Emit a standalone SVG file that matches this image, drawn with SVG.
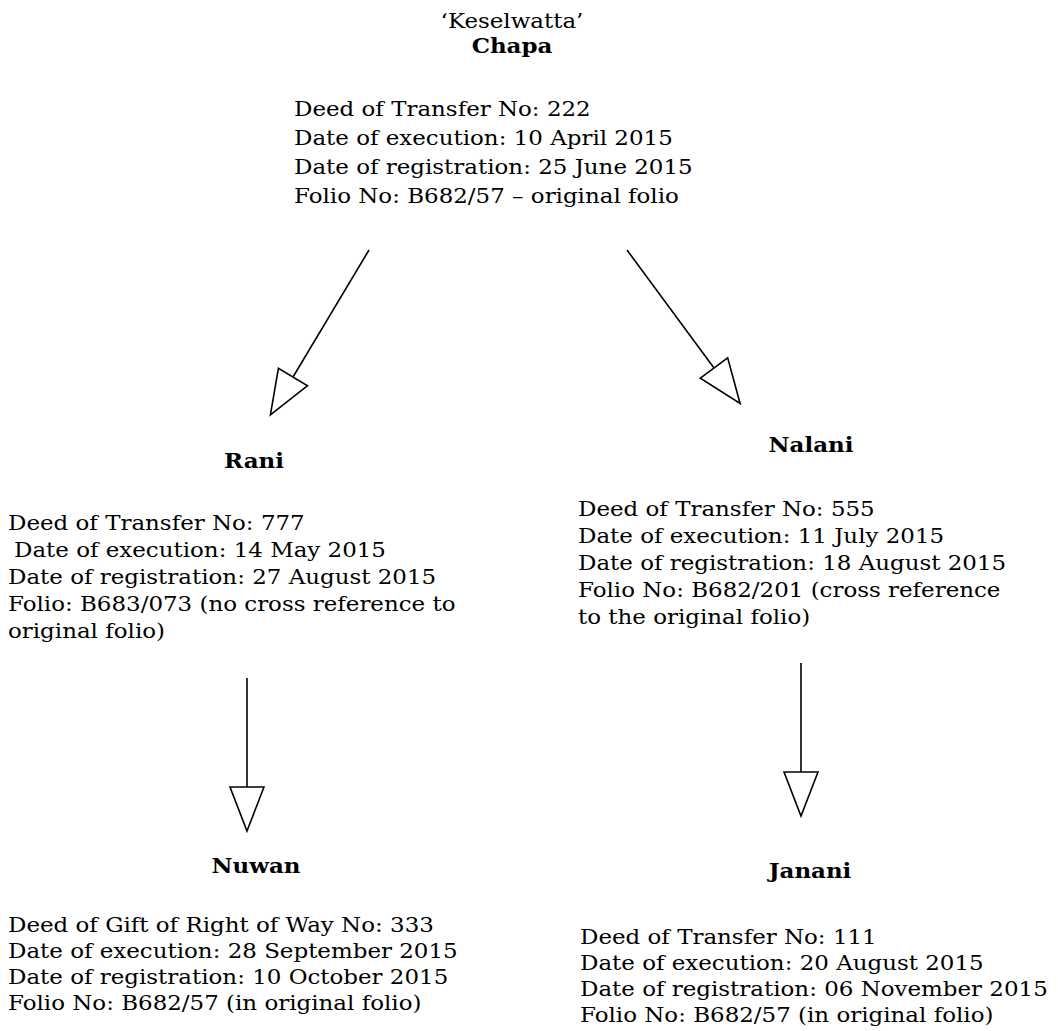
<svg xmlns="http://www.w3.org/2000/svg" width="1058" height="1031" viewBox="0 0 1058 1031">
<style>
  text { font-family: "DejaVu Serif", "Liberation Serif", serif; font-size: 20.5px; fill: #000; }
  .name { font-weight: bold; text-anchor: middle; }
  .title { text-anchor: middle; }
  .conn { stroke: #000; stroke-width: 1.6; fill: none; marker-end: url(#hollow); }
</style>
<defs>
  <marker id="hollow" viewBox="0 0 44 34" refX="0" refY="17" markerWidth="44" markerHeight="34" markerUnits="userSpaceOnUse" orient="auto" overflow="visible">
    <path d="M0,0 L44,17 L0,34 Z" fill="#fff" stroke="#000" stroke-width="1.6"/>
  </marker>
</defs>
<rect width="1058" height="1031" fill="#fff"/>

<g id="connectors">
  <path class="conn" d="M369,250 L293,377"/>
  <path class="conn" d="M627,250 L714,368"/>
  <path class="conn" d="M247,678 L247,787"/>
  <path class="conn" d="M801,663 L801,772"/>
</g>

<g id="chapa">
  <text class="title" transform="translate(512,28) scale(1.12,1)">‘Keselwatta’</text>
  <text class="name" transform="translate(512,53) scale(1.12,1)">Chapa</text>
  <text transform="translate(294,116) scale(1.12,1)">Deed of Transfer No: 222</text>
  <text transform="translate(294,145) scale(1.12,1)">Date of execution: 10 April 2015</text>
  <text transform="translate(294,174) scale(1.12,1)">Date of registration: 25 June 2015</text>
  <text transform="translate(294,203) scale(1.12,1)">Folio No: B682/57 – original folio</text>
</g>

<g id="rani">
  <text class="name" transform="translate(254,468) scale(1.12,1)">Rani</text>
  <text transform="translate(8,530) scale(1.12,1)">Deed of Transfer No: 777</text>
  <text transform="translate(14,557) scale(1.12,1)">Date of execution: 14 May 2015</text>
  <text transform="translate(8,584) scale(1.12,1)">Date of registration: 27 August 2015</text>
  <text transform="translate(8,611) scale(1.12,1)">Folio: B683/073 (no cross reference to</text>
  <text transform="translate(8,638) scale(1.12,1)">original folio)</text>
</g>

<g id="nalani">
  <text class="name" transform="translate(811,452) scale(1.12,1)">Nalani</text>
  <text transform="translate(578,516) scale(1.12,1)">Deed of Transfer No: 555</text>
  <text transform="translate(578,543) scale(1.12,1)">Date of execution: 11 July 2015</text>
  <text transform="translate(578,570) scale(1.12,1)">Date of registration: 18 August 2015</text>
  <text transform="translate(578,597) scale(1.12,1)">Folio No: B682/201 (cross reference</text>
  <text transform="translate(578,624) scale(1.12,1)">to the original folio)</text>
</g>

<g id="nuwan">
  <text class="name" transform="translate(256,873) scale(1.12,1)">Nuwan</text>
  <text transform="translate(8,932) scale(1.12,1)">Deed of Gift of Right of Way No: 333</text>
  <text transform="translate(8,958) scale(1.12,1)">Date of execution: 28 September 2015</text>
  <text transform="translate(8,984) scale(1.12,1)">Date of registration: 10 October 2015</text>
  <text transform="translate(8,1010) scale(1.12,1)">Folio No: B682/57 (in original folio)</text>
</g>

<g id="janani">
  <text class="name" transform="translate(810,878) scale(1.12,1)">Janani</text>
  <text transform="translate(580,944) scale(1.12,1)">Deed of Transfer No: 111</text>
  <text transform="translate(580,970) scale(1.12,1)">Date of execution: 20 August 2015</text>
  <text transform="translate(580,996) scale(1.12,1)">Date of registration: 06 November 2015</text>
  <text transform="translate(580,1022) scale(1.12,1)">Folio No: B682/57 (in original folio)</text>
</g>
</svg>
